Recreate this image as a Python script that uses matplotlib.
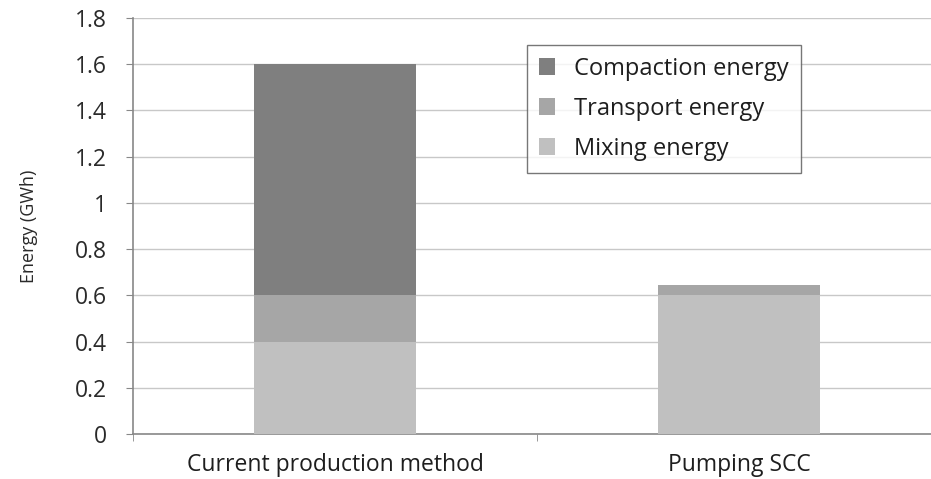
import matplotlib
matplotlib.use("Agg")
import matplotlib.pyplot as plt
import numpy as np

plt.rcParams['font.family'] = ['Open Sans', 'DejaVu Sans']

categories = ["Current production method", "Pumping SCC"]
mixing = [0.40, 0.60]
transport = [0.20, 0.045]
compaction = [1.00, 0.0]
series_names = ["Mixing energy", "Transport energy", "Compaction energy"]
colors = ["#c0c0c0", "#a6a6a6", "#7f7f7f"]
yticks = [0, 0.2, 0.4, 0.6, 0.8, 1, 1.2, 1.4, 1.6, 1.8]

fig = plt.figure(figsize=(9.31, 4.79), dpi=100)
ax = fig.add_axes([133 / 931, 45 / 479, (941 - 133) / 931, (434 - 18) / 479])

x = np.arange(len(categories))
bottom = np.zeros(len(categories))
handles = []
for vals, name, c in zip([mixing, transport, compaction], series_names, colors):
    h = ax.bar(x, vals, width=0.4, bottom=bottom, color=c, label=name, zorder=3)
    handles.append(h)
    bottom += np.array(vals)

ax.set_xlim(-0.5, 1.5)
ax.set_ylim(0, 1.8)
ax.set_yticks(yticks)
ax.set_yticklabels([f"{t:g}" for t in yticks], fontsize=16.5, color="#2a2a2a")
ax.yaxis.grid(True, color="#c8c8c8", linewidth=1.0, zorder=0)
ax.set_axisbelow(True)

ax.set_xticks(x)
ax.set_xticklabels(categories, fontsize=16.5, color="#1e1e1e")
ax.set_xticks([-0.5, 0.5, 1.5], minor=True)
ax.tick_params(axis="x", which="major", length=0, pad=14)
ax.tick_params(axis="x", which="minor", length=5, color="#888888", direction="out")
ax.tick_params(axis="y", length=5, color="#888888", direction="out", pad=14)

for s in ["top", "right"]:
    ax.spines[s].set_visible(False)
for s in ["left", "bottom"]:
    ax.spines[s].set_color("#888888")
    ax.spines[s].set_linewidth(1.2)

ax.set_ylabel("Energy (GWh)", fontsize=13, color="#2a2a2a", labelpad=26)

leg = ax.legend(handles[::-1], series_names[::-1], loc="upper left",
                bbox_to_anchor=((527 - 133) / 808, (434 - 45) / 416),
                fontsize=17, frameon=True, fancybox=False, edgecolor="#555555",
                handlelength=0.7, handleheight=0.7, handletextpad=0.8,
                labelspacing=0.68, borderpad=0.5, borderaxespad=0)
for t in leg.get_texts():
    t.set_color("#1e1e1e")
leg.get_frame().set_linewidth(1.0)

fig.savefig("out.png", dpi=100)
